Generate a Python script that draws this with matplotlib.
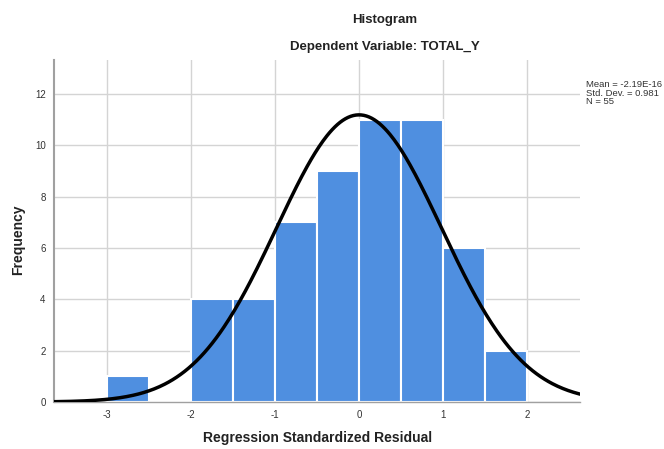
import numpy as np
import matplotlib
matplotlib.use("Agg")
import matplotlib.pyplot as plt

plt.rcParams['font.family'] = ['Liberation Sans', 'DejaVu Sans']

bin_edges = [-3.0, -2.5, -2.0, -1.5, -1.0, -0.5, 0.0, 0.5, 1.0, 1.5, 2.0]
counts = [1, 0, 4, 4, 7, 9, 11, 11, 6, 2]
mean = -2.19e-16
std = 0.981
n = 55
xticks = [-3, -2, -1, 0, 1, 2]
yticks = [0, 2, 4, 6, 8, 10, 12]

fig = plt.figure(figsize=(6.64, 4.49), dpi=100)
ax = fig.add_axes([54/664, 1-402/449, (580-54)/664, (402-60)/449])

ax.set_xlim(-3.63, 2.63)
ax.set_ylim(0, 13.32)

ax.set_axisbelow(True)
ax.grid(True, color='#d4d4d4', linewidth=1.0)

lefts = bin_edges[:-1]
widths = np.diff(bin_edges)
ax.bar(lefts, counts, width=widths, align='edge', color='#4f8fe0',
       edgecolor='white', linewidth=1.5, zorder=2)

xs = np.linspace(-3.63, 2.63, 400)
bw = 0.5
ys = n * bw / (std * np.sqrt(2 * np.pi)) * np.exp(-0.5 * ((xs - mean) / std) ** 2)
ax.plot(xs, ys, color='black', linewidth=2.5, zorder=3)

ax.set_xticks(xticks)
ax.set_xticklabels([str(t) for t in xticks])
ax.set_yticks(yticks)
ax.tick_params(axis='both', length=0, labelsize=7, colors='#333333', pad=6)

for s in ['top', 'right']:
    ax.spines[s].set_visible(False)
ax.spines['left'].set_color('#a0a0a0')
ax.spines['bottom'].set_color('#a0a0a0')
ax.spines['left'].set_linewidth(1.5)
ax.spines['bottom'].set_linewidth(1.0)

fig.text(385/664, 1-20/449, 'Histogram', ha='center', va='center',
         fontsize=9.5, fontweight='bold', color='#222222')
fig.text(385/664, 1-47/449, 'Dependent Variable: TOTAL_Y', ha='center', va='center',
         fontsize=9.5, fontweight='bold', color='#222222')
fig.text(318/664, 1-438/449, 'Regression Standardized Residual', ha='center', va='center',
         fontsize=10, fontweight='bold', color='#222222')
fig.text(18/664, 1-240/449, 'Frequency', ha='center', va='center', rotation=90,
         fontsize=10, fontweight='bold', color='#222222')

fig.text(586/664, 1-93/449, 'Mean = -2.19E-16\nStd. Dev. = 0.981\nN = 55',
         ha='left', va='center', fontsize=6.8, color='#333333', linespacing=0.95)

fig.savefig('out.png', dpi=100)
